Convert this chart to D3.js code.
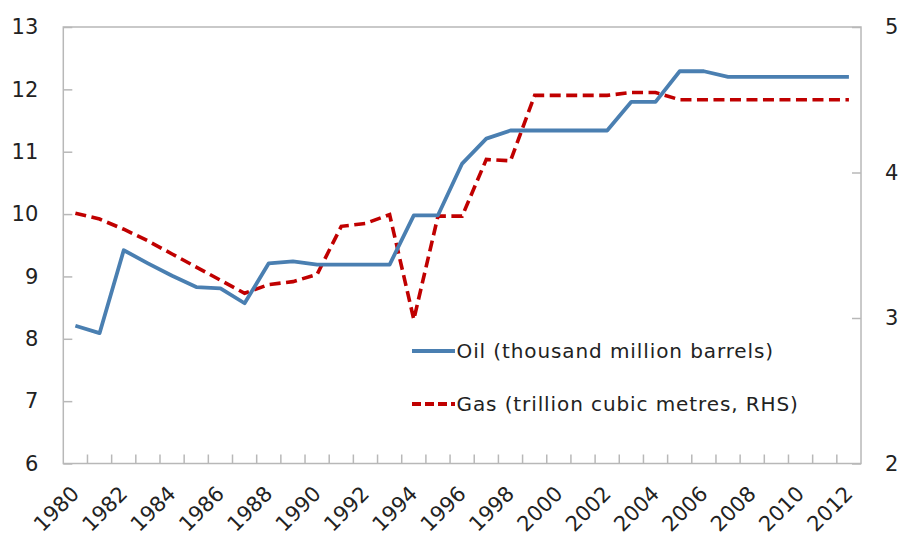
<!DOCTYPE html>
<html>
<head>
<meta charset="utf-8">
<script src="https://cdn.jsdelivr.net/npm/d3@7"></script>
<style>
	body { margin: 0; background: #fff; }
	svg text { font-family: "DejaVu Sans", sans-serif; fill: #222; }
</style>
</head>
<body>
<div id="chart"></div>
<script>
/**
 * Chart data.
 */
var years = [1980, 1981, 1982, 1983, 1984, 1985, 1986, 1987, 1988, 1989, 1990,
	1991, 1992, 1993, 1994, 1995, 1996, 1997, 1998, 1999, 2000, 2001, 2002,
	2003, 2004, 2005, 2006, 2007, 2008, 2009, 2010, 2011, 2012];
// Oil (thousand million barrels), left axis.
var oil = [8.21, 8.09, 9.42, 9.21, 9.01, 8.83, 8.81, 8.57, 9.21, 9.24, 9.19,
	9.19, 9.19, 9.19, 9.98, 9.98, 10.81, 11.21, 11.34, 11.34, 11.34, 11.34, 11.34,
	11.80, 11.80, 12.29, 12.29, 12.20, 12.20, 12.20, 12.20, 12.20, 12.20];
// Gas (trillion cubic metres), right axis.
var gas = [3.72, 3.68, 3.61, 3.53, 3.44, 3.35, 3.26, 3.17, 3.23, 3.25, 3.30,
	3.63, 3.65, 3.71, 2.99, 3.70, 3.70, 4.09, 4.08, 4.53, 4.53, 4.53, 4.53,
	4.55, 4.55, 4.50, 4.50, 4.50, 4.50, 4.50, 4.50, 4.50, 4.50];
var leftTicks = [6, 7, 8, 9, 10, 11, 12, 13];
var rightTicks = [2, 3, 4, 5];
var yearLabels = [1980, 1982, 1984, 1986, 1988, 1990, 1992, 1994, 1996, 1998,
	2000, 2002, 2004, 2006, 2008, 2010, 2012];
var seriesNames = ["Oil (thousand million barrels)", "Gas (trillion cubic metres, RHS)"];

{
	var width = 899,
		height = 537,
		margin = {top: 27, right: 38, bottom: 73.5, left: 63.3};

	var oilColor = "#4a7fb1",
		gasColor = "#c00000",
		frameColor = "#b8b8b8";

	var svg = d3.select("#chart").append("svg")
		.attr("width", width)
		.attr("height", height);

	var x = d3.scaleBand()
		.domain(years)
		.range([margin.left, width - margin.right]);

	var yLeft = d3.scaleLinear()
		.domain([6, 13])
		.range([height - margin.bottom, margin.top]);

	var yRight = d3.scaleLinear()
		.domain([2, 5])
		.range([height - margin.bottom, margin.top]);

	// Plot frame.
	svg.append("rect")
		.attr("x", margin.left)
		.attr("y", margin.top)
		.attr("width", width - margin.left - margin.right)
		.attr("height", height - margin.top - margin.bottom)
		.attr("fill", "none")
		.attr("stroke", frameColor)
		.attr("stroke-width", 1.5);

	// Left axis, ticks pointing inward.
	var gLeft = svg.append("g")
		.attr("transform", "translate(" + margin.left + ",0)")
		.call(d3.axisLeft(yLeft).tickValues(leftTicks).tickFormat(d3.format("d"))
			.tickSizeInner(-9).tickSizeOuter(0).tickPadding(25));

	// Right axis.
	var gRight = svg.append("g")
		.attr("transform", "translate(" + (width - margin.right) + ",0)")
		.call(d3.axisRight(yRight).tickValues(rightTicks).tickFormat(d3.format("d"))
			.tickSizeInner(-9).tickSizeOuter(0).tickPadding(24));

	// Bottom axis labels (ticks drawn separately at category boundaries).
	var gBottom = svg.append("g")
		.attr("transform", "translate(0," + (height - margin.bottom) + ")")
		.call(d3.axisBottom(x).tickValues(yearLabels).tickSize(0).tickSizeOuter(0));

	gBottom.selectAll(".tick text")
		.attr("x", 0)
		.attr("y", 0)
		.attr("dy", 0)
		.attr("text-anchor", "end")
		.attr("transform", "translate(5,31.5) rotate(-45)");

	gBottom.selectAll(".tick line").remove();

	gBottom.selectAll(".boundary")
		.data(years.slice(1))
		.enter().append("line")
		.attr("class", "boundary")
		.attr("x1", function (d) { return x(d); })
		.attr("x2", function (d) { return x(d); })
		.attr("y1", 0)
		.attr("y2", -9)
		.attr("stroke", frameColor)
		.attr("stroke-width", 1.5);

	[gLeft, gRight, gBottom].forEach(function (g) {
		g.select(".domain").remove();
		g.selectAll(".tick line").attr("stroke", frameColor).attr("stroke-width", 1.5);
		g.selectAll(".tick text")
			.style("font-family", "'DejaVu Sans', sans-serif")
			.style("font-size", "21px")
			.attr("fill", "#222");
	});

	// Lines.
	var oilLine = d3.line()
		.x(function (d, i) { return x(years[i]) + x.bandwidth() / 2; })
		.y(function (d) { return yLeft(d); });

	var gasLine = d3.line()
		.x(function (d, i) { return x(years[i]) + x.bandwidth() / 2; })
		.y(function (d) { return yRight(d); });

	svg.append("path")
		.datum(gas)
		.attr("d", gasLine)
		.attr("fill", "none")
		.attr("stroke", gasColor)
		.attr("stroke-width", 3.6)
		.attr("stroke-dasharray", "11,5.5");

	svg.append("path")
		.datum(oil)
		.attr("d", oilLine)
		.attr("fill", "none")
		.attr("stroke", oilColor)
		.attr("stroke-width", 3.8)
		.attr("stroke-linejoin", "round");

	// Legend.
	var legend = svg.append("g")
		.attr("transform", "translate(412,351)");

	var items = legend.selectAll(".item")
		.data(seriesNames)
		.enter().append("g")
		.attr("class", "item")
		.attr("transform", function (d, i) { return "translate(0," + (i * 53) + ")"; });

	items.append("line")
		.attr("x1", 0)
		.attr("x2", 43)
		.attr("stroke", function (d, i) { return i ? gasColor : oilColor; })
		.attr("stroke-width", 3.8)
		.attr("stroke-dasharray", function (d, i) { return i ? "9,4" : null; });

	items.append("text")
		.attr("x", 44.5)
		.attr("dy", "0.36em")
		.style("font-size", "20px")
		.style("letter-spacing", "0.9px")
		.text(function (d) { return d; });
}
</script>
</body>
</html>
